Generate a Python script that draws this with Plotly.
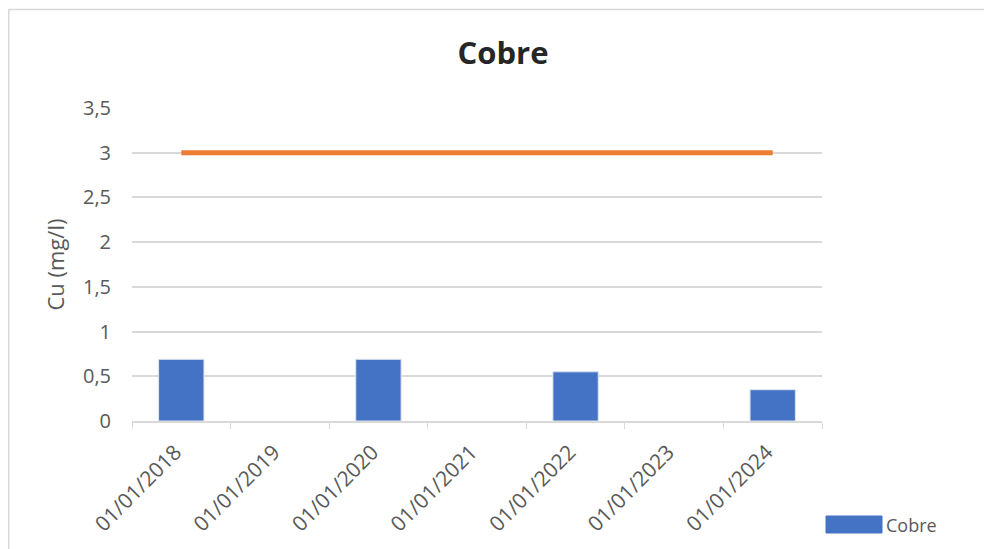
import plotly.graph_objects as go

#categories on the x axis
DATES = ["01/01/2018", "01/01/2019", "01/01/2020", "01/01/2021",
         "01/01/2022", "01/01/2023", "01/01/2024"]

#measured copper (mg/l), None = no sample
COBRE = [0.69, None, 0.69, None, 0.55, None, 0.35]

#limit line
LIMITE = [3, 3, 3, 3, 3, 3, 3]

Y_TICKS = [0, 0.5, 1, 1.5, 2, 2.5, 3, 3.5]

BLUE = "#4472C4"
ORANGE = "#ED7D31"
GRID = "#D9D9D9"
TXT = "#595959"
FONT = "Open Sans"

#page body has an 8px margin, so the figure is shifted up/left by that
L, T, PW, PH = 124, 100, 690, 313

fig = go.Figure()

fig.add_trace(go.Bar(
    x=DATES, y=COBRE,
    name="Cobre",
    width=0.46,
    marker=dict(color=BLUE, line=dict(color="#DCE4F2", width=1)),
    showlegend=False,
))

fig.add_trace(go.Scatter(
    x=DATES, y=LIMITE,
    mode="lines",
    line=dict(color=ORANGE, width=5),
    connectgaps=True,
    showlegend=False,
    name="_limite",
))


def px(x):
    return (x - L) / PW


def py(y):
    return (T + PH - y) / PH


#chart frame (excel style border)
fig.add_shape(
    type="rect", xref="paper", yref="paper",
    x0=px(0.8), x1=px(1000), y0=py(560), y1=py(1.5),
    line=dict(color=GRID, width=1.5),
    fillcolor="rgba(0,0,0,0)",
    layer="below",
)

#legend drawn by hand so the swatch can be wide like excel's
fig.add_shape(
    type="rect", xref="paper", yref="paper",
    x0=px(818), x1=px(874), y0=py(525), y1=py(508),
    line=dict(color=BLUE, width=1),
    fillcolor=BLUE,
)
fig.add_annotation(
    xref="paper", yref="paper",
    x=px(876), y=py(516.5),
    xanchor="left", yanchor="middle",
    text="Cobre", showarrow=False,
    font=dict(family=FONT, size=18, color=TXT),
)

fig.update_layout(
    width=992, height=549,
    paper_bgcolor="white",
    plot_bgcolor="white",
    separators=",.",
    font=dict(family=FONT, color=TXT),
    margin=dict(l=L, r=992 - L - PW, t=T, b=549 - T - PH),
    title=dict(
        text="<b>Cobre</b>",
        x=495 / 992, xanchor="center", xref="container",
        y=1 - 45 / 549, yanchor="middle", yref="container",
        font=dict(family=FONT, size=31, color="#262626"),
    ),
    xaxis=dict(
        type="category",
        tickangle=-45,
        tickson="boundaries",
        ticks="outside", ticklen=6, tickcolor=GRID,
        showline=True, linecolor=GRID, linewidth=1.5,
        showgrid=False,
        ticklabelstandoff=9,
        ticklabelshift=-6,
        tickfont=dict(family=FONT, size=21, color=TXT),
    ),
    yaxis=dict(
        range=[0, 3.5],
        tickvals=Y_TICKS,
        showgrid=True, gridcolor=GRID, gridwidth=1.5,
        zeroline=False,
        showline=False,
        ticks="",
        ticklabelstandoff=20,
        tickfont=dict(family=FONT, size=20, color=TXT),
        title=dict(text="Cu (mg/l)", standoff=12,
                   font=dict(family=FONT, size=22, color=TXT)),
    ),
)

fig.write_html("out.html")
